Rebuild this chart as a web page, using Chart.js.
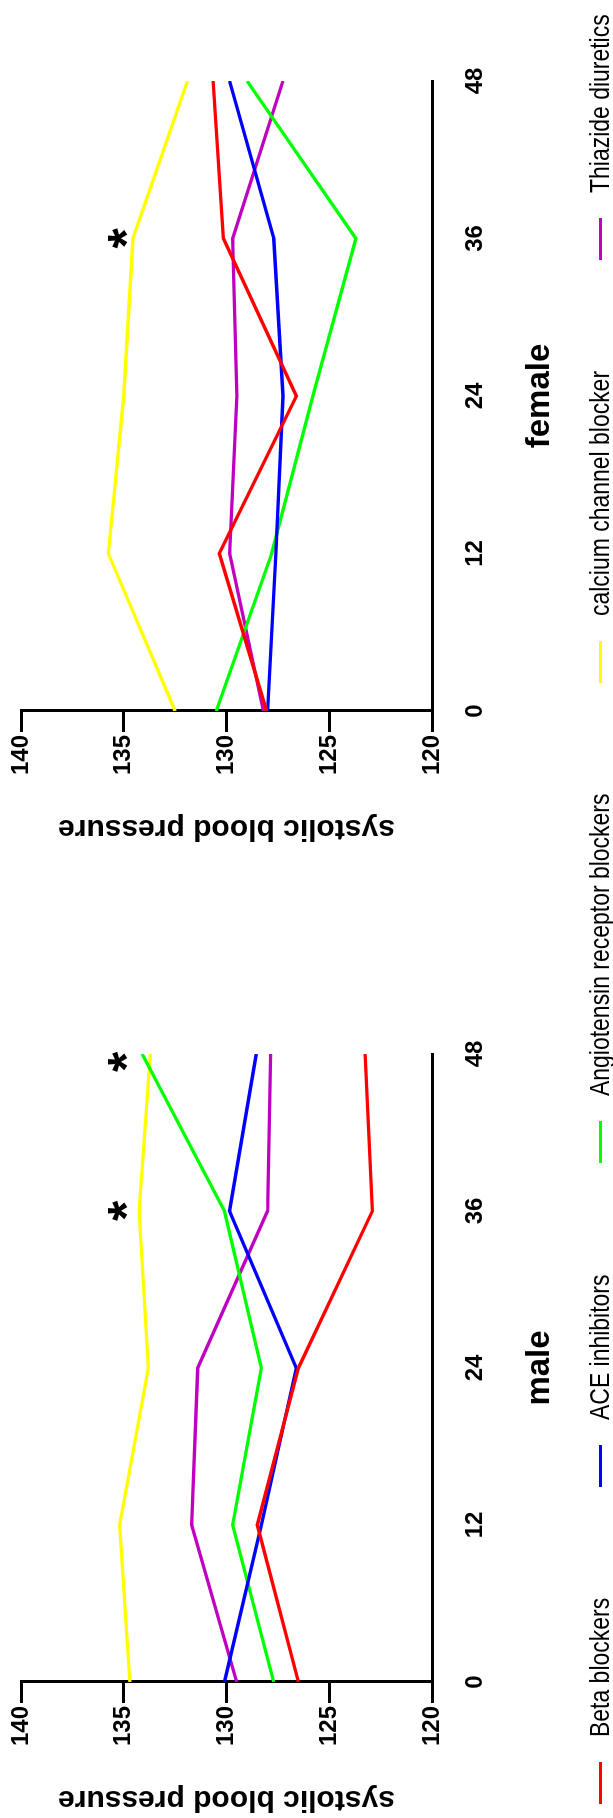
<!DOCTYPE html>
<html>
<head>
<meta charset="utf-8">
<script src="https://cdn.jsdelivr.net/npm/chart.js@4.4.0/dist/chart.umd.min.js"></script>
<style>
  html, body { margin: 0; padding: 0; background: #fff; overflow: hidden; }
  /* the chart is laid out landscape and turned a quarter turn to the left */
  #page { position: absolute; left: 0; top: 0; width: 1818px; height: 613px; background: #fff;
          transform-origin: 0 0; transform: translate(0, 1818px) rotate(-90deg); }
  #maleChart { position: absolute; left: 0; top: 0; }
  #femaleChart { position: absolute; left: 909px; top: 0; }
  #legend { position: absolute; left: 0; top: 584px; width: 1818px; height: 32px;
            display: flex; justify-content: center; align-items: center; gap: 111px;
            font-family: 'Liberation Sans', Arial, sans-serif;
            font-size: 28px; color: #000; white-space: nowrap; }
  .item { display: flex; align-items: center; }
  .swatch { display: inline-block; width: 42px; height: 3px; margin-right: 25px; }
  .label { display: inline-block; overflow: visible; }
  .label span { display: inline-block; transform-origin: 0 50%; transform: scaleX(0.82); }
</style>
</head>
<body>
<div id="page">
  <canvas id="maleChart" width="909" height="613"></canvas>
  <canvas id="femaleChart" width="909" height="613"></canvas>
  <div id="legend"></div>
</div>
<script>
const times = [0, 12, 24, 36, 48];
const drugNames = ['Beta blockers', 'ACE inhibitors', 'Angiotensin receptor blockers', 'calcium channel blocker', 'Thiazide diuretics'];
const yTicks = [120, 125, 130, 135, 140];

const maleBeta      = [126.5, 128.5, 126.5, 122.9, 123.25];
const maleAce       = [130.1, 128.3, 126.6, 129.85, 128.55];
const maleArb       = [127.7, 129.7, 128.3, 130.1, 134.1];
const maleCcb       = [134.7, 135.2, 133.8, 134.25, 133.7];
const maleThiazide  = [129.5, 131.7, 131.4, 128.0, 127.85];

const femaleBeta     = [128.05, 130.35, 126.6, 130.15, 130.65];
const femaleAce      = [128.0, 127.6, 127.25, 127.7, 129.85];
const femaleArb      = [130.5, 127.8, 125.8, 123.7, 129.0];
const femaleCcb      = [132.5, 135.75, 135.0, 134.55, 131.9];
const femaleThiazide = [128.2, 129.85, 129.5, 129.7, 127.25];

// significance stars (time point, level)
const maleStarTimes = [36, 47.4];
const femaleStarTimes = [36];
const starLevel = 135.3;

const colors = ['#ff0000', '#0000ff', '#00ff00', '#ffff00', '#c000c0'];
const tickFont = { family: "'Liberation Sans', Arial, sans-serif", size: 24, weight: 'bold' };

const starPlugin = {
  id: 'stars',
  afterDatasetsDraw(chart, args, opts) {
    const { ctx, scales: { x, y } } = chart;
    ctx.save();
    ctx.font = "bold 52px 'Liberation Sans', Arial, sans-serif";
    ctx.fillStyle = '#000';
    ctx.textAlign = 'center';
    ctx.textBaseline = 'alphabetic';
    const m = ctx.measureText('*');
    const shift = (m.actualBoundingBoxAscent - m.actualBoundingBoxDescent) / 2;
    opts.times.forEach(t => {
      ctx.fillText('*', x.getPixelForValue(t), y.getPixelForValue(starLevel) + shift);
    });
    ctx.restore();
  }
};

function makeChart(id, label, series, starTimes, padLeft, padRight) {
  return new Chart(document.getElementById(id), {
    type: 'line',
    data: {
      datasets: series.map((vals, i) => ({
        label: drugNames[i],
        data: times.map((t, j) => ({ x: t, y: vals[j] })),
        borderColor: colors[i],
        borderWidth: 3.3,
        pointRadius: 0,
        tension: 0,
        fill: false
      }))
    },
    options: {
      responsive: false,
      animation: false,
      layout: { padding: { left: padLeft, right: padRight, top: 21, bottom: 0 } },
      plugins: {
        legend: { display: false },
        tooltip: { enabled: false },
        stars: { times: starTimes }
      },
      scales: {
        x: {
          type: 'linear',
          min: 0,
          max: 48,
          ticks: { stepSize: 12, color: '#000', font: tickFont, padding: 29, maxRotation: 0 },
          grid: { display: false, drawTicks: false },
          border: { display: true, color: '#000', width: 3 },
          title: {
            display: true, text: label, color: '#000',
            font: { family: "'Liberation Sans', Arial, sans-serif", size: 33, weight: 'bold' },
            padding: { top: 0, bottom: 53 }
          },
          afterFit: s => { s.height = 181; }
        },
        y: {
          min: 120,
          max: 140,
          afterBuildTicks: s => { s.ticks = yTicks.map(v => ({ value: v })); },
          ticks: { color: '#000', font: tickFont, padding: 3 },
          grid: { display: true, drawOnChartArea: false, drawTicks: true, tickLength: 21, color: '#000', lineWidth: 3, tickWidth: 3 },
          border: { display: true, color: '#000', width: 3 },
          title: {
            display: true, text: 'systolic blood pressure', color: '#000',
            font: { family: "'Liberation Sans', Arial, sans-serif", size: 30, weight: 'bold' },
            padding: { top: 1, bottom: 0 }
          },
          afterFit: s => { s.width = 136; }
        }
      }
    },
    plugins: [starPlugin]
  });
}

makeChart('maleChart', 'male', [maleBeta, maleAce, maleArb, maleCcb, maleThiazide], maleStarTimes, 0, 145);
makeChart('femaleChart', 'female', [femaleBeta, femaleAce, femaleArb, femaleCcb, femaleThiazide], femaleStarTimes, 62, 81);

// legend: narrow-looking labels (plain sans squeezed horizontally)
const legend = document.getElementById('legend');
drugNames.forEach((name, i) => {
  const item = document.createElement('div');
  item.className = 'item';
  const sw = document.createElement('span');
  sw.className = 'swatch';
  sw.style.background = colors[i];
  const box = document.createElement('span');
  box.className = 'label';
  const txt = document.createElement('span');
  txt.textContent = name;
  box.appendChild(txt);
  item.appendChild(sw);
  item.appendChild(box);
  legend.appendChild(item);
  box.style.width = (txt.offsetWidth * 0.82) + 'px';
});
</script>
</body>
</html>
